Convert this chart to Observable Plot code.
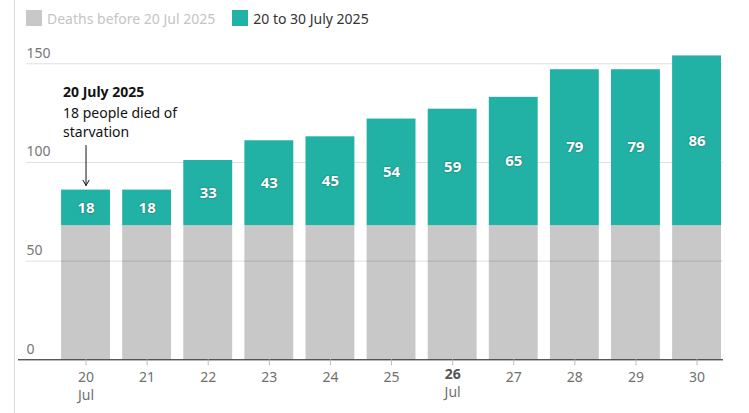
<!DOCTYPE html>
<html><head><meta charset="utf-8">
<script src="https://cdn.jsdelivr.net/npm/d3@7"></script>
<script src="https://cdn.jsdelivr.net/npm/@observablehq/plot@0.6"></script>
<style>
body{margin:0;background:#fff;font-family:"Noto Sans",sans-serif;}
#wrap{position:relative;width:749px;height:413px;overflow:hidden;}
#vline{position:absolute;left:14px;top:0;width:1px;height:413px;background:#dcdcdc;}
#legend{height:32px;display:flex;align-items:center;padding-left:26px;padding-top:4px;box-sizing:border-box;font-size:14px;}
.item{display:flex;align-items:center;margin-right:17px;}
.sw{width:16px;height:16px;display:inline-block;margin-right:5px;}
.lbl text{text-shadow:0 0 2px rgba(0,0,0,0.45);}
svg{display:block;}
</style>
</head><body>
<div id="wrap"><div id="vline"></div>
<div id="legend"></div>
<div id="chart"></div>
</div>
<script>
const days = ["20","21","22","23","24","25","26","27","28","29","30"];
const before = [68,68,68,68,68,68,68,68,68,68,68];
const recent = [18,18,33,43,45,54,59,65,79,79,86];
const seriesNames = ["Deaths before 20 Jul 2025","20 to 30 July 2025"];
const seriesColors = ["#c8c8c8","#22b2a5"];
const seriesText = ["#c4c4c4","#333333"];
const yTicks = [50,100,150];
const yLabels = [0,50,100,150];
const boldDay = "26";
const annotation = {day:"20", title:"20 July 2025", body:"18 people died of\nstarvation"};

const legend = document.getElementById("legend");
seriesNames.forEach((n,i)=>{
  const it = document.createElement("div"); it.className="item";
  it.innerHTML = `<span class="sw" style="background:${seriesColors[i]}"></span><span style="color:${seriesText[i]}">${n}</span>`;
  legend.appendChild(it);
});

const rows = days.map((d,i)=>({day:d, before:before[i], recent:recent[i], total:before[i]+recent[i]}));
const anno = rows.find(r=>r.day===annotation.day);

const chart = Plot.plot({
  width: 749, height: 381,
  marginTop: 31.3, marginBottom: 53.7, marginLeft: 26, marginRight: 26,
  x: {domain: days, paddingInner: 0.2, paddingOuter: 0.3035, align: 0.946, round: false, label: null},
  y: {domain: [0,150], axis: null},
  style: {fontFamily: "Noto Sans", fontSize: "14px", overflow: "visible", background: "transparent"},
  marks: [
    Plot.text(yLabels, {y: d=>d, text: d=>String(d), frameAnchor: "left", textAnchor: "start", dy: -10.5, fill: "#767676", fontSize: 14}),
    Plot.barY(rows, {x: "day", y1: 0, y2: "before", fill: seriesColors[0]}),
    Plot.ruleY(yTicks, {stroke: "#000", strokeOpacity: 0.13, strokeWidth: 1}),
    Plot.barY(rows, {x: "day", y1: "before", y2: "total", fill: seriesColors[1]}),
    Plot.text(rows, {x: "day", y: d=>d.before + d.recent/2, text: d=>String(d.recent), fill: "white", fontWeight: "bold", fontSize: 15, className: "lbl"}),
    Plot.ruleY([0], {stroke: "#121212", strokeWidth: 1, insetLeft: -8}),
    Plot.axisX({label: null, tickSize: 6, tickPadding: 3, stroke: "#bbbbbb", fill: "#707070", fontSize: 14, lineHeight: 1.3,
      tickFormat: d => d === boldDay ? "" : (d === days[0] ? d + "\nJul" : d)}),
    Plot.text([boldDay], {x: d=>d, y: 0, text: d=>d, dy: 15, fontWeight: "bold", fill: "#555", fontSize: 14}),
    Plot.text([boldDay], {x: d=>d, y: 0, text: ()=>"Jul", dy: 33, fill: "#707070", fontSize: 14}),
    Plot.text([anno], {x: "day", y: "total", text: ()=>annotation.title, dx: -23, dy: -97.6, textAnchor: "start", fontWeight: "bold", fill: "#121212", fontSize: 14}),
    Plot.text([anno], {x: "day", y: "total", text: ()=>annotation.body, dx: -23, dy: -69, textAnchor: "start", lineHeight: 1.36, fill: "#121212", fontSize: 14}),
    Plot.arrow([anno], {x1: "day", x2: "day", y1: d=>d.total + 22.6, y2: "total", insetEnd: 4.6, stroke: "#121212", strokeWidth: 1, headLength: 9})
  ]
});
document.getElementById("chart").appendChild(chart);
</script>
</body></html>
